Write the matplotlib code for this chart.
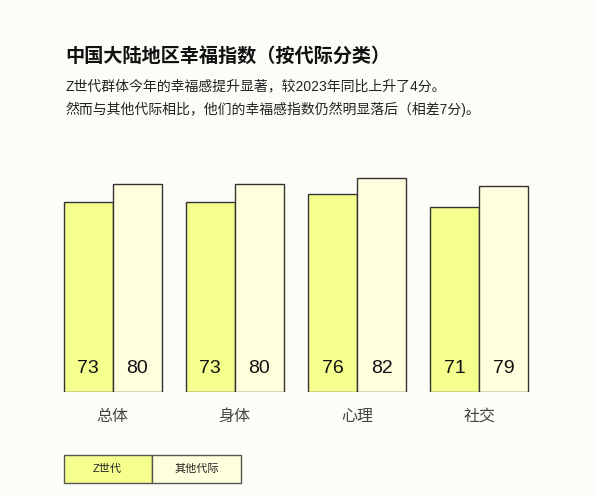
import matplotlib.pyplot as plt
from matplotlib.patches import Rectangle
import numpy as np

categories = ["总体", "身体", "心理", "社交"]
gen_z = [73, 73, 76, 71]
others = [80, 80, 82, 79]
series_names = ["Z世代", "其他代际"]

title = "中国大陆地区幸福指数（按代际分类）"
subtitle_1 = "Z世代群体今年的幸福感提升显著，较2023年同比上升了4分。"
subtitle_2 = "然而与其他代际相比，他们的幸福感指数仍然明显落后（相差7分)。"

FONTS = ["Liberation Sans", "Noto Sans CJK SC", "DejaVu Sans"]
plt.rcParams["font.family"] = FONTS

BG = "#fdfdf8"
Z_COLOR = "#f4ff8e"
O_COLOR = "#ffffdd"
EDGE = "#333333"

W, H = 594, 495
fig = plt.figure(figsize=(W / 100, H / 100), dpi=100, facecolor=BG)

def fx(px):
    return px / W

def fy(py):
    return 1 - py / H

# axes laid out in pixels: group spacing 122.2px, bar width 49px
left_px, right_px, top_px, bottom_px = 40, 560, 150, 391.7
g0, step, unit = 112.6, 122.2, 2.6
ax = fig.add_axes([fx(left_px), fy(bottom_px), fx(right_px - left_px), (bottom_px - top_px) / H])
ax.set_facecolor(BG)
ax.set_xlim((left_px - g0) / step, (right_px - g0) / step)
ax.set_ylim(0, (bottom_px - top_px) / unit)

x = np.arange(len(categories))
bw = 49 / step
bz = ax.bar(x, gen_z, width=-bw, align="edge", color=Z_COLOR, edgecolor=EDGE, linewidth=1)
bo = ax.bar(x, others, width=bw, align="edge", color=O_COLOR, edgecolor=EDGE, linewidth=1)

for i in range(len(categories)):
    ax.text(x[i] - bw / 2, 8.8, str(gen_z[i]), ha="center", va="center", fontsize=14, color="#111111")
    ax.text(x[i] + bw / 2, 8.8, str(others[i]), ha="center", va="center", fontsize=14, color="#111111")
    ax.text(x[i], -9.5, categories[i], ha="center", va="center", fontsize=11.5, color="#444444")

ax.axis("off")

fig.text(fx(65), fy(56), title, fontsize=13.8, fontweight="bold", color="#111111", va="center")
fig.text(fx(65), fy(86), subtitle_1, fontsize=10, color="#222222", va="center")
fig.text(fx(65), fy(109), subtitle_2, fontsize=10, color="#222222", va="center")

# legend boxes
lx0, lx1, lx2 = 63.5, 151.7, 241
ly0, ly1 = 454.7, 483.3
for (a, b), c, name in zip([(lx0, lx1), (lx1, lx2)], [Z_COLOR, O_COLOR], series_names):
    fig.add_artist(Rectangle((fx(a), fy(ly1)), fx(b - a), (ly1 - ly0) / H,
                             transform=fig.transFigure, facecolor=c, edgecolor="#555555", linewidth=1))
    fig.text(fx((a + b) / 2), fy((ly0 + ly1) / 2), name, ha="center", va="center", fontsize=8, color="#222222")

fig.savefig("out.png", dpi=100, facecolor=BG)
